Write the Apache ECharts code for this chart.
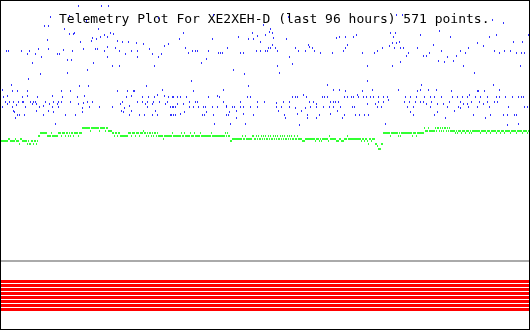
<!DOCTYPE html>
<html><head><meta charset="utf-8">
<script src="https://cdn.jsdelivr.net/npm/echarts@6/dist/echarts.min.js"></script>
<style>
html,body{margin:0;padding:0;background:#fff}
#c{position:absolute;left:0;top:0;width:530px;height:330px}
#frame{position:absolute;left:0;top:0;width:530px;height:330px;box-sizing:border-box;border:1px solid #000;pointer-events:none}
</style></head><body>
<div id="c"></div><div id="frame"></div>
<script>
const titleText = 'Telemetry Plot For XE2XEH-D (last 96 hours) 571 points.';

// time step (0..529) and reading for channel 1 (blue)
const bluePoints = [
[78,324],[101,324],[108,324],[50,313],[69,314],[86,309],[44,304],[48,304],[64,301],[98,301],[69,296],[73,296],[74,297],[104,295],[110,297],[113,296],[92,292],[96,291],[100,293],[107,293],[47,290],[80,288],[91,289],[117,289],[122,288],[128,288],[136,287],[179,291],[38,281],[48,281],[63,280],[83,281],[95,281],[97,281],[107,283],[115,282],[143,286],[149,281],[164,284],[168,286],[6,279],[8,279],[21,279],[27,276],[29,279],[35,276],[57,276],[59,276],[72,279],[104,279],[119,279],[125,276],[131,279],[137,279],[152,276],[161,276],[137,273],[158,273],[41,273],[107,273],[67,270],[71,270],[32,267],[93,267],[154,264],[112,264],[119,264],[87,260],[67,257],[40,256],[28,251],[11,245],[79,244],[88,244],[146,244],[2,240],[12,239],[17,239],[27,239],[61,239],[70,239],[117,239],[127,239],[133,239],[134,239],[162,240],
[3,233],[7,234],[22,233],[27,234],[37,233],[52,234],[62,233],[77,233],[84,234],[126,233],[131,234],[142,233],[148,233],[154,233],[157,235],[164,234],[168,233],[173,233],[177,233],
[5,228],[9,228],[13,228],[18,228],[22,228],[23,228],[30,228],[33,228],[35,228],[45,228],[53,228],[58,228],[61,228],[70,228],[87,228],[92,228],[122,228],[137,228],[142,228],[147,228],[153,228],[159,228],[167,228],
[7,226],[16,225],[32,226],[36,226],[49,226],[57,226],[78,226],[83,227],[120,226],[129,224],[145,226],[152,226],[165,226],[177,226],
[2,223],[12,223],[25,223],[39,223],[43,224],[52,223],[58,223],[82,222],[89,223],[99,223],[112,223],[124,222],[147,223],[170,223],[173,223],
[14,218],[17,215],[19,215],[24,215],[15,212],[36,219],[43,215],[53,218],[55,206],[65,215],[75,215],[82,218],[121,219],[123,218],[129,215],[131,219],[139,215],[144,215],[152,215],[157,215],[170,215],[173,215],[175,215],[13,219],[48,219],[155,219],
[183,297],[212,291],[238,293],[252,297],[248,291],[253,291],[257,294],[260,288],[265,295],[272,297],[273,292],[286,291],[308,285],[336,292],[339,293],[345,293],[347,285],[263,305],[270,301],[269,298],[213,315],
[185,282],[188,277],[192,279],[195,279],[197,279],[208,279],[218,277],[220,277],[222,277],[227,282],[240,277],[243,277],[256,279],[260,279],[265,279],[267,279],[268,282],[270,282],[272,285],[275,282],[277,279],[289,273],[295,282],[298,279],[305,279],[309,283],[312,282],[314,279],[320,277],[332,277],[343,279],[345,282],
[201,267],[206,271],[233,260],[244,256],[277,264],[279,257],[292,266],[191,249],[248,244],[327,245],[193,239],[223,240],[333,240],[339,240],[345,239],
[172,233],[180,233],[186,233],[189,228],[195,228],[197,228],[208,233],[217,234],[219,233],[223,228],[226,224],[240,228],[247,233],[250,233],[257,228],[264,228],[276,227],[283,228],[289,228],[292,233],[295,233],[297,233],[303,235],[306,233],[309,228],[313,228],[316,226],[322,233],[324,233],[327,233],[330,228],[333,228],[335,228],[338,228],[344,233],[347,233],
[172,223],[175,223],[183,226],[189,223],[193,223],[198,223],[203,223],[205,223],[212,223],[217,223],[226,223],[232,223],[234,223],[240,223],[243,223],[250,223],[257,223],[276,223],[281,223],[289,223],[295,222],[305,222],[310,223],[316,223],[323,223],[329,223],[333,223],[340,223],
[171,215],[184,218],[202,215],[204,215],[206,218],[213,215],[214,206],[226,215],[228,215],[229,218],[230,206],[236,219],[236,212],[245,206],[253,215],[278,219],[284,215],[285,212],[301,219],[299,205],[307,215],[307,212],[316,212],[319,215],[337,219],[344,215],[342,212],[180,216],[243,216],[297,216],[330,216],
[158,312],[288,313],[402,315],
[396,315],[492,310],[503,307],[353,293],[356,295],[390,297],[393,293],[395,297],[420,295],[439,299],[450,293],[489,293],[496,295],[528,295],
[389,284],[392,287],[396,287],[394,282],[399,288],[400,282],[403,282],[382,282],[377,279],[374,277],[362,277],[417,282],[408,277],[406,274],[423,274],[426,274],[429,277],[433,285],[441,279],[438,269],[444,268],[447,273],[453,269],[456,274],[460,279],[465,277],[468,282],[477,287],[483,284],[494,279],[499,277],[504,279],[510,279],[513,288],[516,277],[521,277],[522,288],[524,277],
[367,264],[392,264],[400,268],[463,264],[474,257],[367,249],[421,245],[493,245],[520,264],
[362,239],[372,240],[398,240],[417,239],[420,240],[428,240],[436,240],[451,239],[477,239],[478,239],[484,239],[499,240],
[351,233],[353,233],[357,235],[358,233],[363,233],[366,233],[370,233],[373,233],[378,233],[383,233],[387,233],[405,233],[410,233],[416,233],[424,233],[430,233],[434,233],[441,233],[452,233],[457,233],[462,233],[467,233],[469,235],[475,233],[480,233],[487,233],[496,233],[499,233],[505,233],[512,233],[518,233],[521,233],[523,233],
[367,226],[375,226],[378,228],[383,228],[388,230],[404,228],[409,228],[415,228],[420,228],[423,228],[426,226],[431,228],[437,226],[443,226],[449,228],[460,228],[463,226],[467,226],[471,228],[479,228],[483,226],[487,228],[494,228],[497,228],
[352,223],[354,223],[377,223],[381,223],[407,223],[413,223],[430,223],[447,223],[458,223],[460,222],[468,223],[477,223],[489,223],[508,223],[524,223],[527,223],
[355,215],[359,215],[364,215],[368,215],[385,206],[410,218],[413,215],[434,215],[437,218],[445,212],[454,219],[473,215],[485,212],[490,215],[503,215],[507,215],[507,205],[514,215],[516,215],[518,206]
];

// channel 2 (green): one reading per time step 0..529
const greenValues = [
189,189,189,189,189,189,189,189,191,191,
189,189,189,189,189,191,189,189,189,186,
191,191,189,189,189,189,189,186,189,186,
186,189,189,186,189,189,186,189,194,194,
197,197,197,197,197,197,197,194,194,194,
194,197,194,194,194,194,194,194,197,197,
197,194,197,197,197,194,197,197,194,197,
194,197,197,194,197,197,197,197,194,197,
197,197,202,202,202,202,202,202,202,202,
199,202,202,202,202,202,202,202,202,199,
202,202,202,202,202,199,202,202,199,199,
199,199,197,197,194,197,197,194,197,197,
194,194,194,194,194,194,194,194,197,197,
197,194,197,197,197,194,197,197,197,194,
197,197,197,199,197,197,194,197,194,197,
197,194,197,194,197,197,194,197,194,194,
194,194,194,191,194,194,194,194,194,194,
194,194,197,194,194,194,194,194,194,194,
194,197,194,194,197,194,194,194,194,194,
197,194,194,194,197,194,194,194,194,194,
197,194,194,194,194,194,194,194,194,194,
194,197,194,194,194,194,194,194,194,194,
194,194,194,194,194,197,194,197,194,194,
189,189,191,191,191,191,191,191,191,191,
191,191,194,191,191,194,191,191,191,191,
191,191,194,194,191,191,194,191,194,191,
191,194,191,194,191,194,191,191,194,191,
194,191,191,194,191,194,191,194,191,191,
194,191,194,191,194,191,191,194,191,194,
191,194,191,191,194,191,191,194,191,191,
191,191,189,189,189,191,191,191,191,191,
191,191,191,191,191,189,191,191,191,189,
191,189,191,191,191,191,191,191,189,194,
191,191,191,191,191,191,189,189,189,191,
191,189,189,189,191,191,191,194,191,191,
191,191,191,191,191,191,191,191,191,191,
191,189,191,191,189,191,191,189,186,191,
191,189,191,191,191,186,186,184,181,181,
181,186,186,197,197,197,197,197,197,197,
194,197,197,197,197,197,197,197,194,197,
194,197,197,197,197,197,197,197,197,197,
197,197,194,197,197,197,194,197,197,197,
197,197,197,197,202,199,199,199,202,199,
199,199,199,199,199,202,199,202,202,199,
202,199,202,199,202,202,199,202,199,202,
199,199,199,199,199,197,199,197,199,199,
199,197,199,199,199,197,199,199,199,197,
199,197,199,199,199,199,199,199,199,199,
197,199,199,199,199,199,197,199,199,199,
197,199,199,199,199,199,197,199,199,199,
197,199,199,199,197,199,199,199,199,199,
197,199,199,199,199,199,197,199,199,199,
199,199,197,199,199,199,199,197,199,199
];

// channel 3 (grey): constant over the period
const spanT = [0, 529];
const grayValues = [69, 69];
// digital bits 1..8 (red), drawn as constant traces
const bitLevels = [48.5, 44.5, 40.5, 36.5, 32.5, 28.5, 24.5, 20.5];

const chart = echarts.init(document.getElementById('c'), null, {renderer: 'canvas'});
const series = [];
series.push({
  type: 'line', data: spanT.map((t, i) => [t, grayValues[i]]), showSymbol: false, silent: true,
  lineStyle: {color: '#aaaaaa', width: 2}, z: 1
});
bitLevels.forEach(v => series.push({
  type: 'line', data: spanT.map(t => [t, v]), showSymbol: false, silent: true,
  lineStyle: {color: '#ff0000', width: 3}, z: 1
}));
series.push({
  type: 'scatter', data: greenValues.map((v, i) => [i, v]), symbol: 'rect', symbolSize: [1, 2],
  itemStyle: {color: '#00ff00'}, silent: true, z: 3
});
series.push({
  type: 'scatter', data: bluePoints, symbol: 'rect', symbolSize: [1, 2],
  itemStyle: {color: '#0000ff'}, silent: true, z: 4
});

chart.setOption({
  animation: false,
  backgroundColor: '#ffffff',
  title: {
    text: titleText, left: 59, top: 13, padding: 0, z: 0,
    textStyle: {fontFamily: 'DejaVu Sans Mono', fontSize: 13, fontWeight: 'normal', color: '#000000'}
  },
  grid: {left: 0, right: 0, top: 0, bottom: 0, containLabel: false},
  xAxis: {type: 'value', min: -0.5, max: 529.5, show: false},
  yAxis: {type: 'value', min: 0, max: 330, show: false},
  series: series
});
</script>
</body></html>
